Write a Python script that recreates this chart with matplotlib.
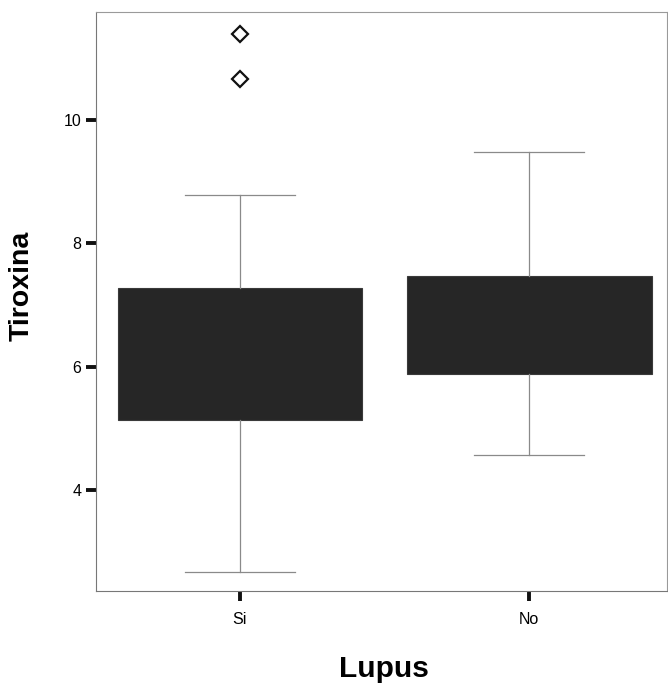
import matplotlib
matplotlib.use("Agg")
import matplotlib.pyplot as plt

plt.rcParams['font.family'] = ['Liberation Sans', 'DejaVu Sans']

categories = ["Si", "No"]
q1 = [5.14, 5.88]
q3 = [7.28, 7.47]
medians = [6.3, 6.7]
whislo = [2.67, 4.57]
whishi = [8.78, 9.48]
outliers = [[11.39, 10.66], []]
yticks = [4, 6, 8, 10]

stats = []
for i, c in enumerate(categories):
    stats.append(dict(label=c, q1=q1[i], q3=q3[i], med=medians[i],
                      whislo=whislo[i], whishi=whishi[i], fliers=outliers[i]))

fig = plt.figure(figsize=(6.68, 6.84), dpi=100)
ax = fig.add_axes([96/668, 93/684, 571/668, 579/684])

box_color = "#262626"
ax.bxp(stats, positions=[0, 1], widths=0.845, patch_artist=True,
       boxprops=dict(facecolor=box_color, edgecolor="#3a3a3a", linewidth=0.8),
       medianprops=dict(color=box_color, linewidth=0),
       whiskerprops=dict(color="#8a8a8a", linewidth=0.9),
       capprops=dict(color="#8a8a8a", linewidth=0.9),
       capwidths=0.38,
       flierprops=dict(marker="D", markersize=8, markerfacecolor="white",
                       markeredgecolor="#111111", markeredgewidth=1.6))

ax.set_xlim(-0.497, 1.476)
ax.set_ylim(2.37, 11.75)
ax.set_yticks(yticks)
ax.set_yticklabels([str(t) for t in yticks])
ax.set_xticks([0, 1])
ax.set_xticklabels(categories)

for s in ax.spines.values():
    s.set_color("#9a9a9a")
    s.set_linewidth(0.8)
ax.spines['left'].set_color("#777777")
ax.spines['bottom'].set_color("#777777")

ax.tick_params(axis='both', direction='out', length=7.2, width=2.8, color="#111111",
               labelsize=11.5)
ax.tick_params(axis='y', pad=3.5)
ax.tick_params(axis='x', pad=8)

ax.set_xlabel("Lupus", fontsize=21.5, fontweight='bold', va='baseline')
ax.xaxis.set_label_coords(0.5035, -0.1485)
ax.set_ylabel("Tiroxina", fontsize=20.5, fontweight='bold', va='center')
ax.yaxis.set_label_coords(-0.1296, 0.527)

fig.savefig("out.png", dpi=100)
